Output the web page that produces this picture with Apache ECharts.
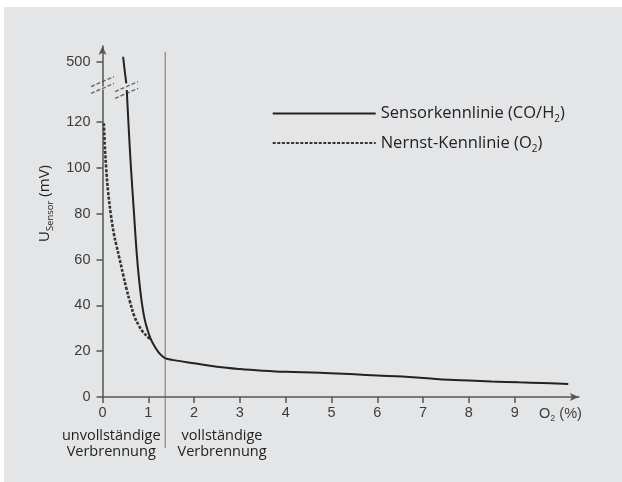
<!DOCTYPE html>
<html><head><meta charset="utf-8">
<script src="https://cdn.jsdelivr.net/npm/echarts@6/dist/echarts.min.js"></script>
<style>
html,body{margin:0;padding:0;background:#ffffff;width:622px;height:482px;overflow:hidden}
#c{position:absolute;left:4px;top:7px;width:618px;height:475px;background:#e4e5e7}
</style></head><body><div id="c"></div>
<script>
// O2 (%) / U (mV) points
const sensorUpper = [[0.45, 502.2], [0.485, 496], [0.52, 490.6]];
const sensorLower = [[0.53, 134], [0.55, 126], [0.58, 114.5], [0.62, 100.5], [0.685, 81], [0.75, 62], [0.80, 51], [0.86, 41], [0.92, 34], [0.98, 29.5], [1.05, 25.5], [1.14, 22], [1.22, 19.6], [1.32, 17.6], [1.40, 16.7], [1.55, 16.1], [2.0, 14.7], [2.5, 13.2], [3.0, 12.2], [3.5, 11.5], [4.0, 11.0], [4.75, 10.6], [5.5, 9.9], [6.0, 9.4], [6.55, 8.9], [7.0, 8.3], [7.57, 7.5], [8.0, 7.2], [8.5, 6.8], [9.09, 6.4], [9.6, 6.1], [10.17, 5.7]];
const nernst = [[0.03, 119.5], [0.05, 110], [0.08, 100], [0.12, 90], [0.18, 80], [0.25, 71], [0.30, 66.5], [0.37, 60.5], [0.45, 53.5], [0.52, 47.5], [0.60, 41.5], [0.70, 35], [0.80, 31], [0.88, 28.5], [1.0, 26], [1.05, 25.4]];
const xTicks = [0, 1, 2, 3, 4, 5, 6, 7, 8, 9];
const xLabelValues = [0, 1, 2, 3, 4, 5, 6, 7, 8, 9, 10];
const yTicks = [0, 20, 40, 60, 80, 100, 120];
const yUpperTicks = [500];
const boundaryO2 = 1.37;
const seriesNames = ['Sensorkennlinie (CO/H2)', 'Nernst-Kennlinie (O2)'];

const chart = echarts.init(document.getElementById('c'), null, {renderer: 'canvas'});
const axisCol = '#555';
const labelStyle = {color: '#3c3c3c', fontSize: 14.5, fontFamily: 'Liberation Sans'};
const rich = {
  a: {fontSize: 16.5, fontFamily: 'Open Sans', color: '#222', lineHeight: 22},
  s: {fontSize: 10, fontFamily: 'Open Sans', color: '#222', lineHeight: 13, verticalAlign: 'bottom'}
};
const option = {
  animation: false,
  backgroundColor: '#e4e5e7',
  grid: [
    {left: 98.5, right: 43.2, top: 83, bottom: 85},
    {left: 98.5, right: 43.2, top: 39, height: 40}
  ],
  xAxis: [
    {gridIndex: 0, type: 'value', min: 0, max: 10.4, interval: 1,
      axisLine: {show: true, lineStyle: {color: axisCol, width: 1.5}, symbol: ['none', 'arrow'], symbolSize: [6, 9]},
      axisTick: {show: true, length: 6, lineStyle: {color: axisCol, width: 1.5}, customValues: xTicks},
      axisLabel: Object.assign({margin: 8, customValues: xLabelValues,
        formatter: v => v === 10 ? '{n|O}{ns|2}{n| (%)}' : String(v),
        rich: {n: {fontSize: 14.5, fontFamily: 'Liberation Sans', color: '#3c3c3c', lineHeight: 18},
               ns: {fontSize: 9, fontFamily: 'Liberation Sans', color: '#3c3c3c', lineHeight: 11, verticalAlign: 'bottom'}}}, labelStyle),
      splitLine: {show: false}},
    {gridIndex: 1, type: 'value', min: 0, max: 10.4, show: false}
  ],
  yAxis: [
    {gridIndex: 0, type: 'value', min: 0, max: 134, interval: 20,
      axisLine: {show: true, lineStyle: {color: axisCol, width: 1.5}},
      axisTick: {show: true, length: 6, lineStyle: {color: axisCol, width: 1.5}, customValues: yTicks},
      axisLabel: Object.assign({margin: 12, customValues: yTicks}, labelStyle),
      splitLine: {show: false}},
    {gridIndex: 1, type: 'value', min: 489.4, max: 506.9,
      axisLine: {show: true, lineStyle: {color: axisCol, width: 1.5}, symbol: ['none', 'arrow'], symbolSize: [6, 9]},
      axisTick: {show: true, length: 6, lineStyle: {color: axisCol, width: 1.5}, customValues: yUpperTicks},
      axisLabel: Object.assign({margin: 12, customValues: yUpperTicks}, labelStyle),
      splitLine: {show: false}}
  ],
  legend: {
    orient: 'vertical', left: 262.7, top: 93, itemWidth: 103, itemHeight: 14, itemGap: 10,
    data: seriesNames,
    itemStyle: {opacity: 0},
    formatter: n => n === seriesNames[0] ? '{a|Sensorkennlinie (CO/H}{s|2}{a|)}' : '{a|Nernst-Kennlinie (O}{s|2}{a|)}',
    textStyle: {color: '#222', fontSize: 16.5, fontFamily: 'Open Sans', rich: rich}
  },
  series: [
    {name: seriesNames[0], type: 'line', xAxisIndex: 0, yAxisIndex: 0, data: sensorLower,
      symbol: 'none', smooth: 0.4, clip: false,
      lineStyle: {color: '#222', width: 2}, itemStyle: {color: '#222'}},
    {name: seriesNames[1], type: 'line', xAxisIndex: 0, yAxisIndex: 0, data: nernst,
      symbol: 'none', smooth: 0.4,
      lineStyle: {color: '#333', width: 2.6, type: [3, 1.6]}, itemStyle: {color: '#333'}},
    {name: seriesNames[0], type: 'line', xAxisIndex: 1, yAxisIndex: 1, data: sensorUpper,
      symbol: 'none', lineStyle: {color: '#222', width: 2}}
  ]
};
chart.setOption(option);

// decorations: boundary line, axis title, region labels, break marks
const P = (v) => chart.convertToPixel({xAxisIndex: 0, yAxisIndex: 0}, v);
const PU = (v) => chart.convertToPixel({xAxisIndex: 1, yAxisIndex: 1}, v);
const lowTop = P([0, 134]);
const upBot = PU([0, 489.4]);
const midY = (lowTop[1] + upBot[1]) / 2 - 3;
const curveX = P([0.525, 0])[0];
const vTop = PU([boundaryO2, 504.4]);
const vBot = P([boundaryO2, -22.3]);
function breakPair(cx, cy) {
  const out = [];
  [-3.4, 3.4].forEach(d => {
    out.push({type: 'line', silent: true,
      shape: {x1: cx - 11.5, y1: cy + d + 5, x2: cx + 11.5, y2: cy + d - 5},
      style: {stroke: '#666', lineWidth: 1.4, lineDash: [4, 2]}});
  });
  return out;
}
const labA = P([0.19, 0]);
const labB = P([2.61, 0]);
const subRich = {
  a: {fontSize: 15, fontFamily: 'Open Sans', fill: '#222', lineHeight: 20},
  s: {fontSize: 9.5, fontFamily: 'Open Sans', fill: '#222', lineHeight: 12, verticalAlign: 'bottom'}
};
chart.setOption({
  graphic: [
    {type: 'line', silent: true, z: -1,
      shape: {x1: vTop[0], y1: vTop[1], x2: vBot[0], y2: vBot[1]},
      style: {stroke: '#9a9a9a', lineWidth: 1.5}},
    {type: 'text', silent: true, x: 41, y: 196.5, rotation: Math.PI / 2,
      style: {text: '{a|U}{s|Sensor}{a| (mV)}', align: 'center', verticalAlign: 'middle', rich: subRich}},
    {type: 'text', silent: true, x: labA[0], y: 436.5,
      style: {text: 'unvollständige\nVerbrennung', align: 'center', verticalAlign: 'middle', fontSize: 14.5, lineHeight: 16, fontFamily: 'Open Sans', fill: '#222'}},
    {type: 'text', silent: true, x: labB[0], y: 436.5,
      style: {text: 'vollständige\nVerbrennung', align: 'center', verticalAlign: 'middle', fontSize: 14.5, lineHeight: 16, fontFamily: 'Open Sans', fill: '#222'}}
  ].concat(breakPair(lowTop[0], midY)).concat(breakPair(curveX, midY + 5))
});
</script></body></html>
